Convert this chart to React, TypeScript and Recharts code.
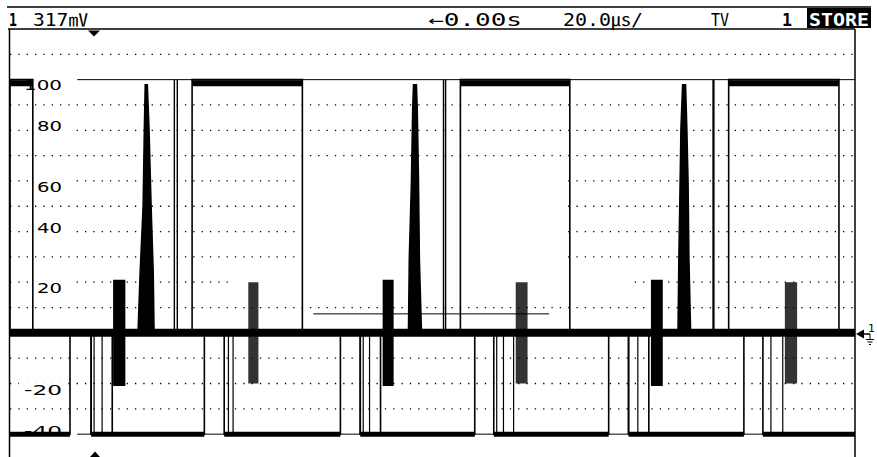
import React from 'react';
import {
  ComposedChart,
  Line,
  Area,
  XAxis,
  YAxis,
  CartesianGrid,
  ReferenceArea,
  ReferenceLine,
} from 'recharts';

// time axis in µs (20 µs/div, 10 div), level in IRE
const timeDomain: [number, number] = [0, 200];
const levelDomain: [number, number] = [-51, 120];
const gridLevels = [110, 90, 80, 70, 60, 50, 40, 30, 20, 10, -10, -20, -30];
const scaleLabels = [100, 80, 60, 40, 20, -20, -40];

// white bar of each line (start, end)
const whiteBars = [[0, 5.4], [43.1, 69.2], [106.6, 132.5], [170.1, 196.2]];
// line sync pulses at -40
const syncPulses = [[19.2, 24.2], [82.9, 87.7], [146.4, 151.2]];
// serrations in the broad (vertical) pulses, back to 0
const broadGaps = [[14.2, 19.2], [46.0, 50.7], [78.2, 82.9], [110.0, 114.5], [141.7, 146.4], [173.7, 178.2]];
// colour burst blocks and the noisy bursts
const bursts = [[24.4, 27.3, -21, 21], [88.2, 90.8, -21, 21], [151.7, 154.5, -21, 21]];
const noiseBursts = [[56.4, 58.8, -20, 20], [119.7, 122.5, -20, 20], [183.4, 186.3, -20, 20]];
// narrow peaks (outline)
const spikeA = [
  { t: 30.3, v: 0 }, { t: 30.8, v: 24 }, { t: 31.5, v: 50 }, { t: 31.8, v: 81 }, { t: 32.0, v: 98 },
  { t: 32.5, v: 98 }, { t: 32.9, v: 81 }, { t: 33.4, v: 50 }, { t: 33.9, v: 24 }, { t: 34.1, v: 0 },
];
const spikeB = [
  { t: 94.3, v: 0 }, { t: 94.5, v: 29 }, { t: 95.0, v: 59 }, { t: 95.3, v: 88 }, { t: 95.5, v: 98 },
  { t: 96.2, v: 98 }, { t: 96.4, v: 88 }, { t: 96.7, v: 59 }, { t: 96.9, v: 29 }, { t: 97.4, v: 0 },
];
const spikeC = [
  { t: 158.1, v: 0 }, { t: 158.3, v: 29 }, { t: 158.6, v: 59 }, { t: 158.8, v: 81 }, { t: 159.2, v: 98 },
  { t: 159.9, v: 98 }, { t: 160.2, v: 81 }, { t: 160.5, v: 59 }, { t: 160.7, v: 29 }, { t: 161.1, v: 0 },
];
// thin edges reaching 100 and -40
const whiteEdges = [38.9, 39.6, 102.6, 103.1, 166.4, 166.6];
const eqEdges = [19.9, 21.8, 51.7, 52.8, 83.6, 85.1, 115.2, 116.8, 119.2, 148.6, 180.1, 182.9];
// horizontal cursor
const cursorTrace = [{ t: 71.8, v: 7.5 }, { t: 127.6, v: 7.5 }];
const baselineTrace = [{ t: 0, v: 0 }, { t: 200, v: 0 }];
// graticule areas left blank on the screen
const blankBoxes = [[68.7, 131.8, 24, 66], [52.1, 147.6, 17, 23]];

type Pt = { t: number; v: number | null };

const videoTrace: Pt[] = (() => {
  const pulses = [
    ...whiteBars.map(([s, e]) => ({ s, e, lvl: 100 })),
    ...syncPulses.map(([s, e]) => ({ s, e, lvl: -40 })),
  ].sort((a, b) => a.s - b.s);
  const pts: Pt[] = [];
  pulses.forEach((p) => {
    pts.push({ t: p.s, v: 0 }, { t: p.s, v: p.lvl }, { t: p.e, v: p.lvl }, { t: p.e, v: 0 });
  });
  pts.push({ t: timeDomain[1], v: 0 });
  return pts;
})();

const broadTrace: Pt[] = (() => {
  const pts: Pt[] = [{ t: timeDomain[0], v: -40 }];
  broadGaps.forEach(([s, e]) => {
    pts.push({ t: s, v: -40 }, { t: s, v: 0 }, { t: e, v: 0 }, { t: e, v: -40 });
  });
  pts.push({ t: timeDomain[1], v: -40 });
  return pts;
})();

const topPlateau: Pt[] = whiteBars.flatMap(([s, e]) => [
  { t: s, v: 98.6 }, { t: e, v: 98.6 }, { t: e, v: null },
]);

const bottomPlateau: Pt[] = (() => {
  const pts: Pt[] = [];
  let prev = timeDomain[0];
  broadGaps.forEach(([s, e]) => {
    pts.push({ t: prev, v: -40 }, { t: s, v: -40 }, { t: s, v: null });
    prev = e;
  });
  pts.push({ t: prev, v: -40 }, { t: timeDomain[1], v: -40 });
  return pts;
})();

const whiteEdgeTrace: Pt[] = whiteEdges.flatMap((t) => [{ t, v: 0 }, { t, v: 100 }, { t, v: null }]);
const eqEdgeTrace: Pt[] = eqEdges.flatMap((t) => [{ t, v: 0 }, { t, v: -40 }, { t, v: null }]);

const labelNudge: Record<string, number> = { '100': 5, '80': -4, '60': 6, '40': -4, '20': 6, '-20': 6, '-40': -3 };

const ScaleTick = (props: any) => {
  const { y, payload } = props;
  const txt = String(payload.value);
  const cy = y + (labelNudge[txt] || 0);
  const clear = txt !== '100' && txt !== '-40';
  const wide = txt.length > 2;
  return (
    <g>
      {clear && <rect x={wide ? 19 : 35} y={cy - 7} width={wide ? 48 : 40} height={14} fill="#fff" />}
      <text
        x={wide ? 24 : 37}
        y={cy + 5}
        fontFamily="'DejaVu Sans', sans-serif"
        fontSize={14}
        fill="#000"
        textLength={wide ? 38 : 25}
        lengthAdjust="spacingAndGlyphs"
      >
        {txt}
      </text>
    </g>
  );
};

const mono = "'DejaVu Sans Mono', 'Noto Sans CJK JP', monospace";

export default function App() {
  return (
    <div style={{ position: 'absolute', left: 0, top: 0, width: 877, height: 457, background: '#fff', overflow: 'hidden' }}>
      <ComposedChart width={877} height={457} margin={{ top: 29, right: 22, bottom: -5, left: -50 }}>
        <XAxis type="number" dataKey="t" domain={timeDomain} hide allowDataOverflow />
        <YAxis
          type="number"
          domain={levelDomain}
          ticks={scaleLabels}
          width={60}
          axisLine={false}
          tickLine={false}
          tick={ScaleTick}
          allowDataOverflow
          interval={0}
        />
        <YAxis yAxisId="grid" type="number" domain={levelDomain} ticks={gridLevels} hide allowDataOverflow interval={0} />
        <CartesianGrid
          yAxisId="grid"
          vertical={false}
          horizontalValues={gridLevels}
          stroke="#000"
          strokeWidth={1.3}
          strokeDasharray="1.3 7.03"
        />
        {blankBoxes.map(([x1, x2, y1, y2], i) => (
          <ReferenceArea
            key={'w' + i}
            x1={x1}
            x2={x2}
            y1={y1}
            y2={y2}
            fill="#fff"
            fillOpacity={1}
            stroke="none"
            zIndex={-50}
          />
        ))}
        <ReferenceLine segment={[{ x: 15.9, y: 100 }, { x: 200, y: 100 }]} stroke="#000" strokeWidth={1} />
        <ReferenceLine segment={[{ x: 15.9, y: -40 }, { x: 200, y: -40 }]} stroke="#000" strokeWidth={1} />
        {bursts.map(([x1, x2, y1, y2], i) => (
          <ReferenceArea key={'b' + i} x1={x1} x2={x2} y1={y1} y2={y2} fill="#000" fillOpacity={1} stroke="none" />
        ))}
        {noiseBursts.map(([x1, x2, y1, y2], i) => (
          <ReferenceArea key={'n' + i} x1={x1} x2={x2} y1={y1} y2={y2} fill="#000" fillOpacity={0.8} stroke="none" />
        ))}
        {[spikeA, spikeB, spikeC].map((d, i) => (
          <Area
            key={'s' + i}
            data={d}
            dataKey="v"
            type="linear"
            baseValue={0}
            stroke="#000"
            strokeWidth={1.5}
            fill="#000"
            fillOpacity={1}
            dot={false}
            activeDot={false}
            isAnimationActive={false}
          />
        ))}
        <Line data={baselineTrace} dataKey="v" type="linear" stroke="#000" strokeWidth={8} dot={false} activeDot={false} isAnimationActive={false} />
        <Line data={topPlateau} dataKey="v" type="linear" stroke="#000" strokeWidth={6} dot={false} activeDot={false} connectNulls={false} isAnimationActive={false} />
        <Line data={bottomPlateau} dataKey="v" type="linear" stroke="#000" strokeWidth={5} dot={false} activeDot={false} connectNulls={false} isAnimationActive={false} />
        <Line data={videoTrace} dataKey="v" type="linear" stroke="#000" strokeWidth={1.6} dot={false} activeDot={false} isAnimationActive={false} />
        <Line data={broadTrace} dataKey="v" type="linear" stroke="#000" strokeWidth={1.6} dot={false} activeDot={false} isAnimationActive={false} />
        <Line data={whiteEdgeTrace} dataKey="v" type="linear" stroke="#000" strokeWidth={1.4} dot={false} activeDot={false} connectNulls={false} isAnimationActive={false} />
        <Line data={eqEdgeTrace} dataKey="v" type="linear" stroke="#000" strokeWidth={1.2} dot={false} activeDot={false} connectNulls={false} isAnimationActive={false} />
        <Line data={cursorTrace} dataKey="v" type="linear" stroke="#000" strokeWidth={1} dot={false} activeDot={false} isAnimationActive={false} />
      </ComposedChart>

      <svg width={877} height={457} style={{ position: 'absolute', left: 0, top: 0, pointerEvents: 'none' }}>
        {/* header frame */}
        <line x1={7} y1={7} x2={871} y2={7} stroke="#000" strokeWidth={1.5} />
        <line x1={8} y1={29} x2={855} y2={29} stroke="#000" strokeWidth={1.5} />
        <line x1={9.5} y1={29} x2={9.5} y2={457} stroke="#000" strokeWidth={1.5} />
        <line x1={855} y1={29} x2={855} y2={457} stroke="#000" strokeWidth={1.5} />
        <g fontFamily={mono} fill="#000">
          <text x={9} y={26} fontSize={17} fontWeight="bold" textLength={8} lengthAdjust="spacingAndGlyphs">1</text>
          <text x={33} y={26} fontSize={17} textLength={55} lengthAdjust="spacingAndGlyphs">317㎷</text>
          <text x={428} y={26} fontSize={17} textLength={94} lengthAdjust="spacingAndGlyphs">←0.00s</text>
          <text x={563} y={26} fontSize={17} textLength={80} lengthAdjust="spacingAndGlyphs">20.0㎲/</text>
          <text x={711} y={26} fontSize={17} textLength={18} lengthAdjust="spacingAndGlyphs">TV</text>
          <text x={782} y={26} fontSize={17} fontWeight="bold" textLength={10} lengthAdjust="spacingAndGlyphs">1</text>
          <rect x={807} y={8} width={64} height={20} fill="#000" />
          <text x={809} y={26} fontSize={17} fontWeight="bold" fill="#fff" textLength={60} lengthAdjust="spacingAndGlyphs">STORE</text>
        </g>
        {/* trigger markers */}
        <polygon points="88,30.5 100,30.5 94,36.5" fill="#000" />
        <polygon points="90,457 100,457 95,451.5" fill="#000" />
        {/* channel 1 ground marker */}
        <polygon points="856,334 864,329.5 864,338.5" fill="#000" />
        <line x1={862} y1={334} x2={870} y2={334} stroke="#000" strokeWidth={1.5} />
        <text x={868} y={332} fontFamily={mono} fontSize={11} fill="#000">1</text>
        <line x1={870} y1={334} x2={870} y2={339} stroke="#000" strokeWidth={1} />
        <line x1={866} y1={339.5} x2={874} y2={339.5} stroke="#000" strokeWidth={1} />
        <line x1={867.5} y1={342} x2={872.5} y2={342} stroke="#000" strokeWidth={1} />
        <line x1={869} y1={344.5} x2={871} y2={344.5} stroke="#000" strokeWidth={1} />
      </svg>
    </div>
  );
}
